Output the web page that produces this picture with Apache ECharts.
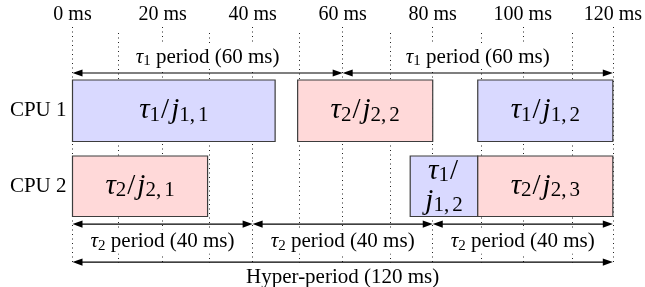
<!DOCTYPE html>
<html><head><meta charset="utf-8">
<script src="https://cdn.jsdelivr.net/npm/echarts@6/dist/echarts.min.js"></script>
<style>html,body{margin:0;padding:0;background:#fff}#c{width:645px;height:287px}</style>
</head><body><div id="c"></div>
<script>
// ---------- data ----------
const tickValues = [0, 20, 40, 60, 80, 100, 120];
const tickUnit = 'ms';
const cpuNames = ['CPU 1', 'CPU 2'];
const jobCpu   = [0, 0, 0, 1, 1, 1];
const jobTask  = [1, 2, 1, 2, 1, 2];
const jobIndex = ['1,1', '2,2', '1,2', '2,1', '1,2', '2,3'];
const jobStart = [0, 50, 90, 0, 75, 90];
const jobEnd   = [45, 80, 120, 30, 90, 120];
const periodLane  = ['tau1', 'tau1', 'tau2', 'tau2', 'tau2', 'hyper'];
const periodTask  = [1, 1, 2, 2, 2, 0];
const periodStart = [0, 60, 0, 40, 80, 0];
const periodEnd   = [60, 120, 40, 80, 120, 120];

// ---------- layout / style ----------
const FONT = 'Liberation Serif';
const ROWS = [{ top: 2.246, bottom: 4.852 }, { top: 5.466, bottom: 8.03 }];
const LANES = { tau1: { y: 1.95, dy: -16 }, tau2: { y: 8.35, dy: 17.5 }, hyper: { y: 9.96, dy: 15 } };
const TASK_FILL = { 1: '#d9d9ff', 2: '#ffd9d9' };
const GRID = { left: 72.5, right: 27.5, bottom: 24 };

const RICH_BIG = {
  t: { fontFamily: FONT, fontStyle: 'italic', fontSize: 29, lineHeight: 30, fill: '#000' },
  n: { fontFamily: FONT, fontSize: 29, lineHeight: 30, fill: '#000', padding: [0, 2, 0, 1] },
  s: { fontFamily: FONT, fontSize: 21, lineHeight: 16, verticalAlign: 'bottom', fill: '#000' },
  c: { fontFamily: FONT, fontSize: 21, lineHeight: 16, verticalAlign: 'bottom', fill: '#000', padding: [0, 3, 0, 0] }
};
const RICH_SMALL = {
  t: { fontFamily: FONT, fontStyle: 'italic', fontSize: 21, lineHeight: 24, fill: '#000' },
  n: { fontFamily: FONT, fontSize: 21, lineHeight: 24, fill: '#000' },
  s: { fontFamily: FONT, fontSize: 15, lineHeight: 14, verticalAlign: 'bottom', fill: '#000' }
};

function head(x, y, dir) {
  const L = 10, W = 3.6;
  return { type: 'polygon', shape: { points: [[x, y], [x - dir * L, y - W], [x - dir * L, y + W]] },
           style: { fill: '#000' } };
}

const chart = echarts.init(document.getElementById('c'), null, { renderer: 'canvas' });
chart.setOption({
  backgroundColor: '#fff',
  animation: false,
  grid: [
    Object.assign({ top: 27 }, GRID),
    Object.assign({ top: 33 }, GRID)
  ],
  xAxis: [
    { gridIndex: 0, type: 'value', position: 'top', min: 0, max: 120, interval: 20,
      axisLine: { show: false }, axisTick: { show: false },
      axisLabel: { margin: 2, fontFamily: FONT, fontSize: 20, color: '#000',
        formatter: v => tickValues.includes(v) ? v + ' ' + tickUnit : '' },
      splitLine: { show: true, lineStyle: { type: [1, 3.5], color: '#222', width: 1 } } },
    { gridIndex: 1, type: 'value', position: 'top', min: 0, max: 120, interval: 10,
      axisLine: { show: false }, axisTick: { show: false }, axisLabel: { show: false },
      splitLine: { show: true, lineStyle: { type: [1, 3.5], color: ['rgba(0,0,0,0)', '#222'], width: 1 } } }
  ],
  yAxis: [
    { gridIndex: 0, type: 'value', min: 0, max: 10, inverse: true, show: false },
    { gridIndex: 1, type: 'value', min: 0, max: 10, inverse: true, show: false }
  ],
  series: [
    { // CPU row labels
      type: 'custom', xAxisIndex: 0, yAxisIndex: 0, silent: true,
      data: cpuNames.map((n, i) => [0, i]),
      encode: { x: 0, y: 1 },
      renderItem(params, api) {
        const r = ROWS[params.dataIndex];
        const p = api.coord([api.value(0), (r.top + r.bottom) / 2]);
        return { type: 'text', style: { text: cpuNames[params.dataIndex], x: p[0] - 6, y: p[1],
          align: 'right', verticalAlign: 'middle', fontFamily: FONT, fontSize: 21, fill: '#000' } };
      }
    },
    { // jobs
      type: 'custom', xAxisIndex: 0, yAxisIndex: 0, silent: true,
      data: jobStart.map((s, i) => [s, jobEnd[i], jobCpu[i]]),
      encode: { x: [0, 1], y: 2 },
      renderItem(params, api) {
        const i = params.dataIndex;
        const r = ROWS[api.value(2)];
        const p0 = api.coord([api.value(0), r.top]);
        const p1 = api.coord([api.value(1), r.bottom]);
        const w = p1[0] - p0[0];
        const parts = jobIndex[i].split(',');
        const sub = `{c|${parts[0]},}{s|${parts[1]}}`;
        const text = `{t|τ}{s|${jobTask[i]}}{n|/}` + (w < 90 ? '\n' : '') + `{t|j}${sub}`;
        return { type: 'group', children: [
          { type: 'rect', shape: { x: p0[0], y: p0[1], width: w, height: p1[1] - p0[1] },
            style: { fill: TASK_FILL[jobTask[i]], stroke: '#3c3c3c', lineWidth: 1.2 } },
          { type: 'text', style: { text, x: (p0[0] + p1[0]) / 2, y: (p0[1] + p1[1]) / 2,
            align: 'center', verticalAlign: 'middle', rich: RICH_BIG } }
        ] };
      }
    },
    { // period arrows
      type: 'custom', xAxisIndex: 0, yAxisIndex: 0, silent: true,
      data: periodStart.map((s, i) => [s, periodEnd[i]]),
      encode: { x: [0, 1] },
      renderItem(params, api) {
        const i = params.dataIndex;
        const lane = LANES[periodLane[i]];
        const s = api.value(0), e = api.value(1);
        const p0 = api.coord([s, lane.y]);
        const p1 = api.coord([e, lane.y]);
        const y = p0[1];
        const t = periodTask[i];
        const len = e - s;
        const text = t ? `{t|τ}{s|${t}}{n| period (${len} ${tickUnit})}` : `{n|Hyper-period (${len} ${tickUnit})}`;
        return { type: 'group', children: [
          { type: 'line', shape: { x1: p0[0] + 4, y1: y, x2: p1[0] - 4, y2: y },
            style: { stroke: '#000', lineWidth: 1.2 } },
          head(p0[0], y, -1), head(p1[0], y, 1),
          { type: 'text', style: { text, x: (p0[0] + p1[0]) / 2, y: y + lane.dy,
            align: 'center', verticalAlign: 'middle', rich: RICH_SMALL,
            backgroundColor: '#fff', padding: [0, 4] } }
        ] };
      }
    }
  ]
});
</script></body></html>
